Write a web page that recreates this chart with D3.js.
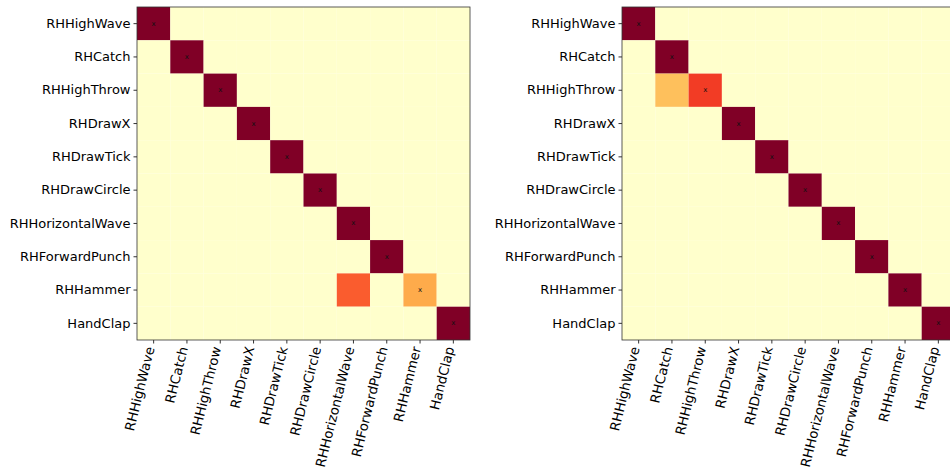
<!DOCTYPE html>
<html>
<head>
<meta charset="utf-8">
<script src="https://cdn.jsdelivr.net/npm/d3@7"></script>
<style>
  body { margin: 0; background: #fff; }
  svg { display: block; }
  text { font-family: "DejaVu Sans", sans-serif; }
</style>
</head>
<body>
<svg id="chart"></svg>
<script>
// gesture classes, same order on both axes
const gestures = ["RHHighWave", "RHCatch", "RHHighThrow", "RHDrawX", "RHDrawTick",
                  "RHDrawCircle", "RHHorizontalWave", "RHForwardPunch", "RHHammer", "HandClap"];

// left matrix (rows = true class, cols = predicted)
const leftMatrix = [
  [1, 0, 0, 0, 0, 0, 0, 0, 0, 0],
  [0, 1, 0, 0, 0, 0, 0, 0, 0, 0],
  [0, 0, 1, 0, 0, 0, 0, 0, 0, 0],
  [0, 0, 0, 1, 0, 0, 0, 0, 0, 0],
  [0, 0, 0, 0, 1, 0, 0, 0, 0, 0],
  [0, 0, 0, 0, 0, 1, 0, 0, 0, 0],
  [0, 0, 0, 0, 0, 0, 1, 0, 0, 0],
  [0, 0, 0, 0, 0, 0, 0, 1, 0, 0],
  [0, 0, 0, 0, 0, 0, 0.6, 0, 0.4, 0],
  [0, 0, 0, 0, 0, 0, 0, 0, 0, 1]
];

// right matrix
const rightMatrix = [
  [1, 0, 0, 0, 0, 0, 0, 0, 0, 0],
  [0, 1, 0, 0, 0, 0, 0, 0, 0, 0],
  [0, 0.33, 0.67, 0, 0, 0, 0, 0, 0, 0],
  [0, 0, 0, 1, 0, 0, 0, 0, 0, 0],
  [0, 0, 0, 0, 1, 0, 0, 0, 0, 0],
  [0, 0, 0, 0, 0, 1, 0, 0, 0, 0],
  [0, 0, 0, 0, 0, 0, 1, 0, 0, 0],
  [0, 0, 0, 0, 0, 0, 0, 1, 0, 0],
  [0, 0, 0, 0, 0, 0, 0, 0, 1, 0],
  [0, 0, 0, 0, 0, 0, 0, 0, 0, 1]
];

const width = 950, height = 472;
const svg = d3.select("#chart").attr("width", width).attr("height", height);

const size = 333;
const panelTop = 7;
const color = d3.scaleSequential(d3.interpolateYlOrRd).domain([0, 1]);

// one heatmap panel
function drawMatrix(matrix, left) {
  const g = svg.append("g").attr("transform", `translate(${left},${panelTop})`);

  const x = d3.scaleBand().domain(gestures).range([0, size]);
  const y = d3.scaleBand().domain(gestures).range([0, size]);

  const cells = [];
  matrix.forEach((row, i) => row.forEach((v, j) => cells.push({row: gestures[i], col: gestures[j], v: v})));

  g.selectAll("rect.cell")
    .data(cells)
    .join("rect")
    .attr("class", "cell")
    .attr("x", d => x(d.col))
    .attr("y", d => y(d.row))
    .attr("width", x.bandwidth())
    .attr("height", y.bandwidth())
    .attr("fill", d => color(d.v));

  // little x on the diagonal
  g.selectAll("text.mark")
    .data(gestures)
    .join("text")
    .attr("class", "mark")
    .attr("x", d => x(d) + x.bandwidth() / 2)
    .attr("y", d => y(d) + y.bandwidth() / 2)
    .attr("text-anchor", "middle")
    .attr("dominant-baseline", "central")
    .attr("font-size", 7)
    .attr("fill", "#111")
    .text("x");

  // frame
  g.append("rect")
    .attr("width", size).attr("height", size)
    .attr("fill", "none").attr("stroke", "#333").attr("stroke-width", 0.8);

  // y axis
  const yAxis = g.append("g").call(d3.axisLeft(y).tickSize(3.5).tickPadding(3));
  yAxis.select(".domain").remove();
  yAxis.selectAll("line").attr("stroke", "#333");
  yAxis.selectAll("text").attr("font-size", 13).attr("fill", "#000")
    .attr("font-family", "DejaVu Sans, sans-serif");

  // x axis, labels turned 75 deg
  const xAxis = g.append("g").attr("transform", `translate(0,${size})`)
    .call(d3.axisBottom(x).tickSize(3.5));
  xAxis.select(".domain").remove();
  xAxis.selectAll("line").attr("stroke", "#333");
  xAxis.selectAll("text")
    .attr("font-size", 13.3).attr("fill", "#000")
    .attr("font-family", "DejaVu Sans, sans-serif")
    .attr("text-anchor", "end")
    .attr("dy", null)
    .attr("y", 0)
    .attr("transform", "translate(1,8) rotate(-76)")
    .attr("dominant-baseline", "auto");
}

drawMatrix(leftMatrix, 137);
drawMatrix(rightMatrix, 622);
</script>
</body>
</html>
